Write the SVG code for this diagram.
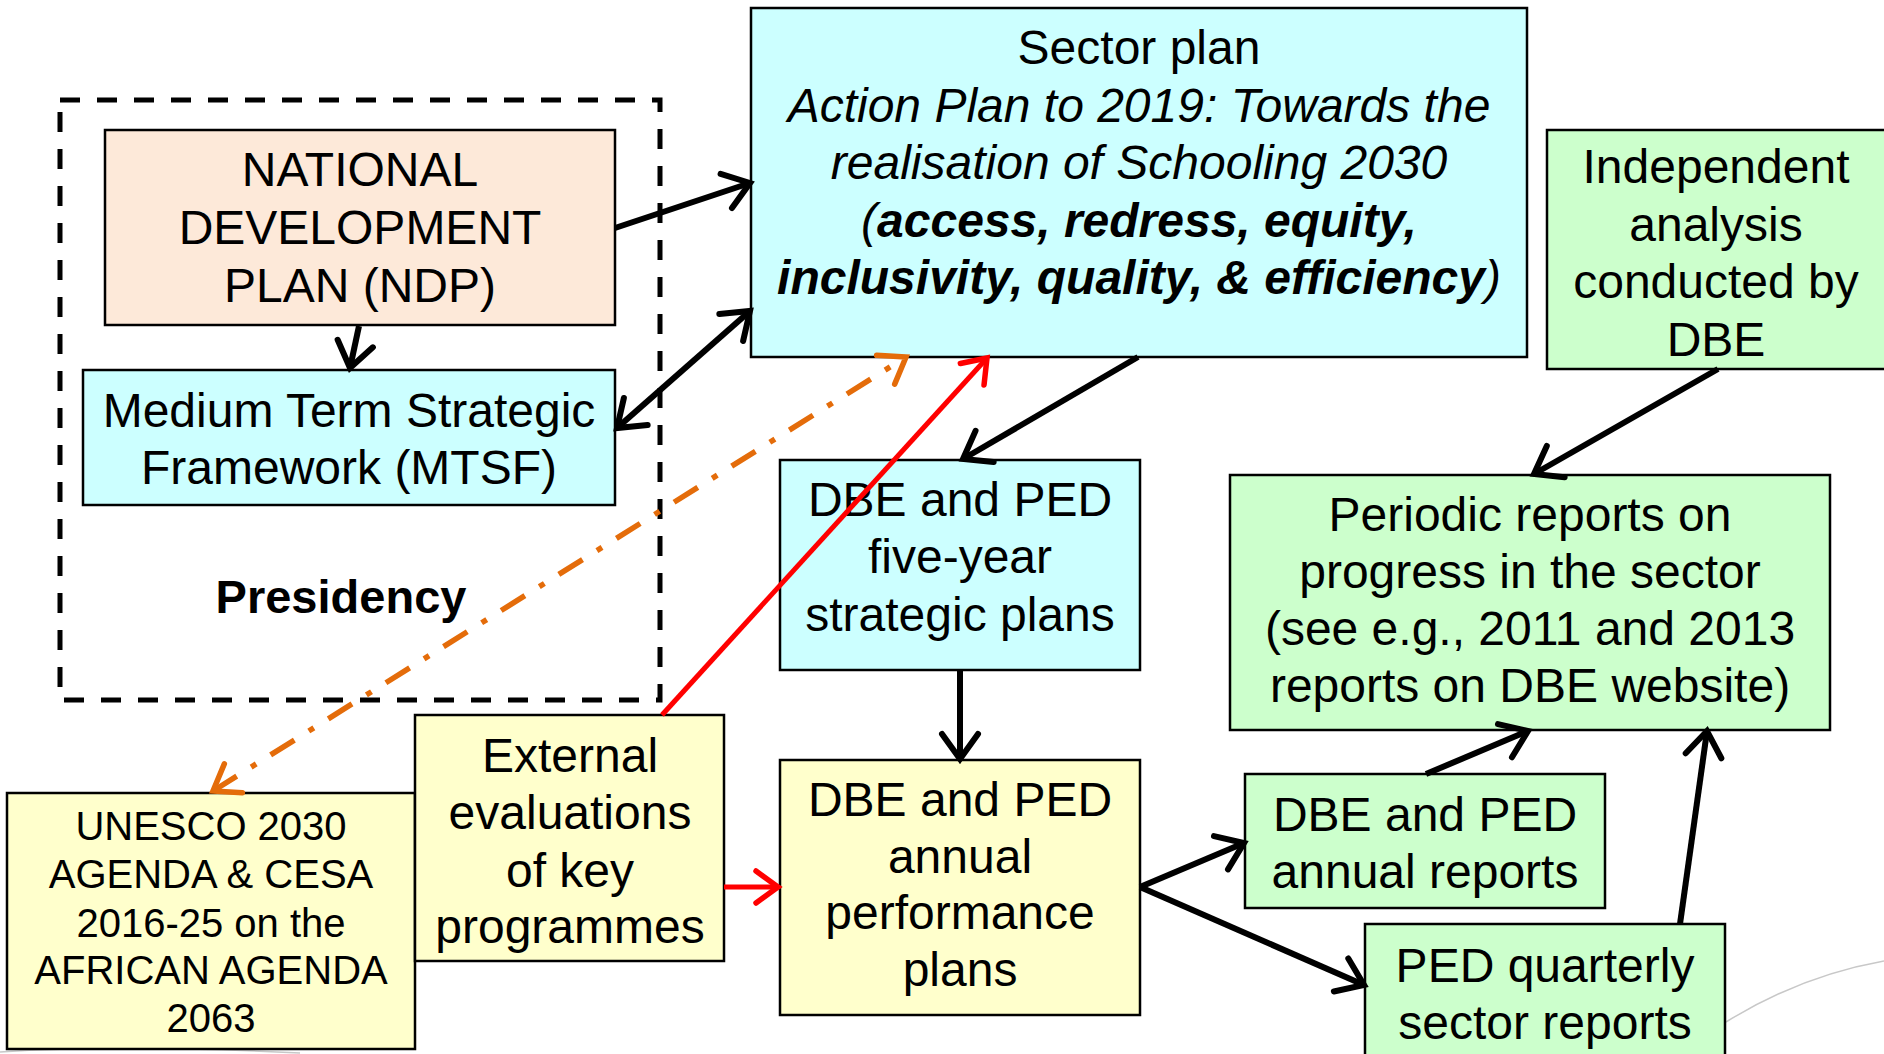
<svg xmlns="http://www.w3.org/2000/svg" width="1884" height="1054" viewBox="0 0 1884 1054">
  <style>
    .box { stroke: #000; stroke-width: 2.5; }
    .cyan { fill: #CCFFFF; }
    .peach { fill: #FDE9D9; }
    .yellow { fill: #FFFFCC; }
    .green { fill: #CCFFCC; }
    text { font-family: "Liberation Sans", Arial, sans-serif; font-size: 48px; fill: #000; text-anchor: middle; }
    .small { font-size: 40px; }
    .it { font-style: italic; }
    .bi { font-style: italic; font-weight: bold; }
    .bold { font-weight: bold; }
    .link { fill: none; stroke: #000; stroke-width: 6; }
    .red { stroke: #FF0000; stroke-width: 5; }
    .orange { stroke: #E46C0A; stroke-width: 5.5; stroke-dasharray: 28 17 6 17; }
    .deco { fill: none; stroke: #C8C8C8; stroke-width: 1.5; }
  </style>
  <defs>
    <marker id="head" markerUnits="userSpaceOnUse" markerWidth="40" markerHeight="40" viewBox="-30 -20 40 40" refX="0" refY="0" orient="auto-start-reverse" overflow="visible">
      <path d="M -25 -18 L 0 0 L -25 18" fill="none" stroke="#000" stroke-width="6" stroke-linecap="round" stroke-linejoin="miter"/>
    </marker>
    <marker id="head-red" markerUnits="userSpaceOnUse" markerWidth="40" markerHeight="40" viewBox="-30 -20 40 40" refX="0" refY="0" orient="auto" overflow="visible">
      <path d="M -22 -16 L 0 0 L -22 16" fill="none" stroke="#FF0000" stroke-width="5.5" stroke-linecap="round"/>
    </marker>
    <marker id="head-orange" markerUnits="userSpaceOnUse" markerWidth="40" markerHeight="40" viewBox="-30 -20 40 40" refX="0" refY="0" orient="auto-start-reverse" overflow="visible">
      <path d="M -24 -17 L 0 0 L -24 17" fill="none" stroke="#E46C0A" stroke-width="5.5" stroke-linecap="round"/>
    </marker>
  </defs>

  <rect width="1884" height="1054" fill="#FFFFFF"/>

  <!-- faint background swooshes -->
  <path class="deco" d="M 1726 1022 Q 1800 976 1884 961"/>
  <path class="deco" d="M 0 1052 Q 120 1044 300 1053"/>

  <!-- Presidency boundary -->
  <g id="presidency">
    <rect x="60" y="100" width="600" height="600" fill="none" stroke="#000" stroke-width="5" stroke-dasharray="20 17"/>
    <text class="bold" x="341" y="613" style="font-size:47px">Presidency</text>
  </g>

  <g id="ndp">
    <rect class="box peach" x="105" y="130" width="510" height="195"/>
    <text x="360" y="186">NATIONAL</text>
    <text x="360" y="244">DEVELOPMENT</text>
    <text x="360" y="302">PLAN (NDP)</text>
  </g>

  <g id="mtsf">
    <rect class="box cyan" x="83" y="370" width="532" height="135"/>
    <text x="349" y="427">Medium Term Strategic</text>
    <text x="349" y="484">Framework (MTSF)</text>
  </g>

  <g id="sector-plan">
    <rect class="box cyan" x="751" y="8" width="776" height="349"/>
    <text x="1139" y="64">Sector plan</text>
    <text class="it" x="1139" y="122">Action Plan to 2019: Towards the</text>
    <text class="it" x="1139" y="179">realisation of Schooling 2030</text>
    <text x="1139" y="237"><tspan class="it">(</tspan><tspan class="bi">access, redress, equity,</tspan></text>
    <text x="1139" y="294"><tspan class="bi">inclusivity, quality, &amp; efficiency</tspan><tspan class="it">)</tspan></text>
  </g>

  <g id="independent-analysis">
    <rect class="box green" x="1547" y="130" width="345" height="239"/>
    <text x="1716" y="183">Independent</text>
    <text x="1716" y="241">analysis</text>
    <text x="1716" y="298">conducted by</text>
    <text x="1716" y="356">DBE</text>
  </g>

  <g id="five-year-plans">
    <rect class="box cyan" x="780" y="460" width="360" height="210"/>
    <text x="960" y="516">DBE and PED</text>
    <text x="960" y="573">five-year</text>
    <text x="960" y="631">strategic plans</text>
  </g>

  <g id="annual-performance-plans">
    <rect class="box yellow" x="780" y="760" width="360" height="255"/>
    <text x="960" y="816">DBE and PED</text>
    <text x="960" y="873">annual</text>
    <text x="960" y="929">performance</text>
    <text x="960" y="986">plans</text>
  </g>

  <g id="periodic-reports">
    <rect class="box green" x="1230" y="475" width="600" height="255"/>
    <text x="1530" y="531">Periodic reports on</text>
    <text x="1530" y="588">progress in the sector</text>
    <text x="1530" y="645">(see e.g., 2011 and 2013</text>
    <text x="1530" y="702">reports on DBE website)</text>
  </g>

  <g id="annual-reports">
    <rect class="box green" x="1245" y="774" width="360" height="134"/>
    <text x="1425" y="831">DBE and PED</text>
    <text x="1425" y="888">annual reports</text>
  </g>

  <g id="quarterly-reports">
    <rect class="box green" x="1365" y="924" width="360" height="140"/>
    <text x="1545" y="982">PED quarterly</text>
    <text x="1545" y="1039">sector reports</text>
  </g>

  <g id="unesco-agenda">
    <rect class="box yellow" x="7" y="793" width="408" height="256"/>
    <text class="small" x="211" y="840">UNESCO 2030</text>
    <text class="small" x="211" y="888">AGENDA &amp; CESA</text>
    <text class="small" x="211" y="937">2016-25 on the</text>
    <text class="small" x="211" y="984">AFRICAN AGENDA</text>
    <text class="small" x="211" y="1032">2063</text>
  </g>

  <g id="external-evaluations">
    <rect class="box yellow" x="415" y="715" width="309" height="246"/>
    <text x="570" y="772">External</text>
    <text x="570" y="829">evaluations</text>
    <text x="570" y="887">of key</text>
    <text x="570" y="943">programmes</text>
  </g>

  <!-- connectors -->
  <g id="connectors">
    <line class="link" x1="615" y1="228" x2="750" y2="183" marker-end="url(#head)"/>
    <line class="link" x1="359" y1="326" x2="350" y2="368" marker-end="url(#head)"/>
    <line class="link" x1="617" y1="428" x2="750" y2="311" marker-start="url(#head)" marker-end="url(#head)"/>
    <line class="link" x1="1138" y1="357" x2="963" y2="459" marker-end="url(#head)"/>
    <line class="link" x1="1718" y1="369" x2="1534" y2="474" marker-end="url(#head)"/>
    <line class="link" x1="960" y1="670" x2="960" y2="759" marker-end="url(#head)"/>
    <line class="link" x1="1140" y1="887" x2="1244" y2="843" marker-end="url(#head)"/>
    <line class="link" x1="1140" y1="887" x2="1364" y2="985" marker-end="url(#head)"/>
    <line class="link" x1="1426" y1="774" x2="1528" y2="731" marker-end="url(#head)"/>
    <line class="link" x1="1680" y1="924" x2="1707" y2="731" marker-end="url(#head)"/>
    <line class="link red" x1="662" y1="715" x2="987" y2="358" marker-end="url(#head-red)"/>
    <line class="link red" x1="724" y1="887" x2="778" y2="887" marker-end="url(#head-red)"/>
    <line class="link orange" x1="213" y1="791" x2="906" y2="357" marker-start="url(#head-orange)" marker-end="url(#head-orange)"/>
  </g>
</svg>
